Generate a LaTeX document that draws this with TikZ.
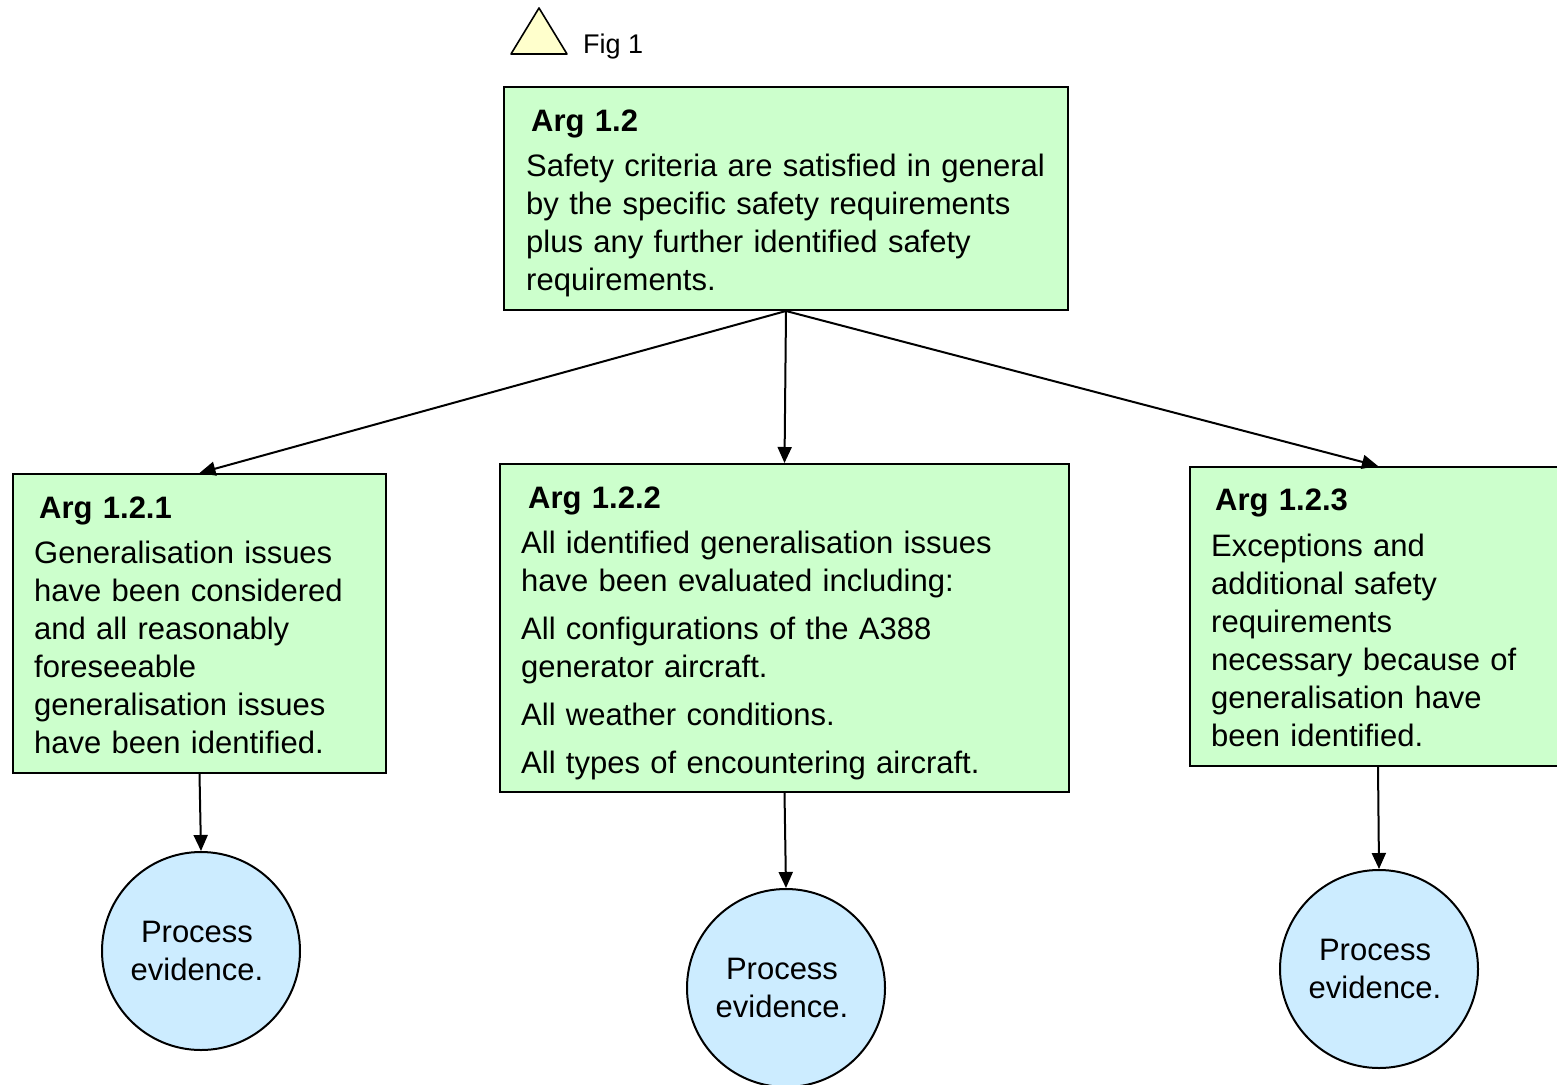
\documentclass[tikz,border=0pt]{standalone}
\usepackage{fontspec}
\setmainfont{Liberation Sans}
\usetikzlibrary{arrows.meta}
\definecolor{argfill}{HTML}{CCFFCC}
\definecolor{evfill}{HTML}{CCECFF}
\definecolor{figfill}{HTML}{FFFFCC}
% evidence label, set a little left of the circle centre
\newcommand{\evlabel}{Process\hspace*{8pt}\\evidence.\hspace*{8pt}}
\begin{document}
\begin{tikzpicture}[x=1pt,y=-1pt,
  argbox/.style={draw=black,line width=2pt,fill=argfill,anchor=north west,inner sep=0pt},
  argtext/.style={inner sep=0pt,anchor=base west,text width=640pt,align=left,
    font=\fontsize{31}{38}\selectfont},
  evidence/.style={circle,draw=black,line width=2pt,fill=evfill,minimum size=198pt,
    inner sep=0pt,align=center,font=\fontsize{31}{38}\selectfont},
  link/.style={line width=2pt,-{Triangle[length=16pt,width=14pt]}}]
\useasboundingbox (0,0) rectangle (1557,1084);
\clip (0,0) rectangle (1557,1084);

% legend
\draw[line width=1.6pt,fill=figfill,line join=round] (511,54) -- (539,8) -- (567,54) -- cycle;
\node[inner sep=0pt,anchor=base west,font=\fontsize{27}{32}\selectfont] (fig) at (583,53) {Fig 1};

% argument boxes
\node[argbox,minimum width=564pt,minimum height=223pt] (a12) at (503,86) {};
\node[argbox,minimum width=373pt,minimum height=299pt] (a121) at (12,473) {};
\node[argbox,minimum width=569pt,minimum height=328pt] (a122) at (499,463) {};
\node[argbox,minimum width=376pt,minimum height=299pt] (a123) at (1189,466) {};

% argument texts
\node[argtext] (t12) at (526,131) {\hspace*{5pt}\textbf{Arg 1.2}\\[7pt]
  Safety criteria are satisfied in general\\
  by the specific safety requirements\\
  plus any further identified safety\\
  requirements.};
\node[argtext] (t121) at (34,518) {\hspace*{5pt}\textbf{Arg 1.2.1}\\[7pt]
  Generalisation issues\\
  have been considered\\
  and all reasonably\\
  foreseeable\\
  generalisation issues\\
  have been identified.};
\node[argtext] (t122) at (521,508) {\hspace*{7pt}\textbf{Arg 1.2.2}\\[7pt]
  All identified generalisation issues\\
  have been evaluated including:\\[10pt]
  All configurations of the A388\\
  generator aircraft.\\[10pt]
  All weather conditions.\\[10pt]
  All types of encountering aircraft.};
\node[argtext] (t123) at (1211,510) {\hspace*{4pt}\textbf{Arg 1.2.3}\\[8pt]
  Exceptions and\\
  additional safety\\
  requirements\\
  necessary because of\\
  generalisation have\\
  been identified.};

% evidence
\node[evidence] (e1) at (201,951) {\evlabel};
\node[evidence] (e2) at (786,988) {\evlabel};
\node[evidence] (e3) at (1379,969) {\evlabel};

% connectors
\draw[link] (a12.south) -- (a121.north);
\draw[link] (a12.south) -- (a122.north);
\draw[link] (a12.south) -- (a123.north);
\draw[link] (a121.south) -- (e1.north);
\draw[link] (a122.south) -- (e2.north);
\draw[link] (a123.south) -- (e3.north);
\end{tikzpicture}
\end{document}
